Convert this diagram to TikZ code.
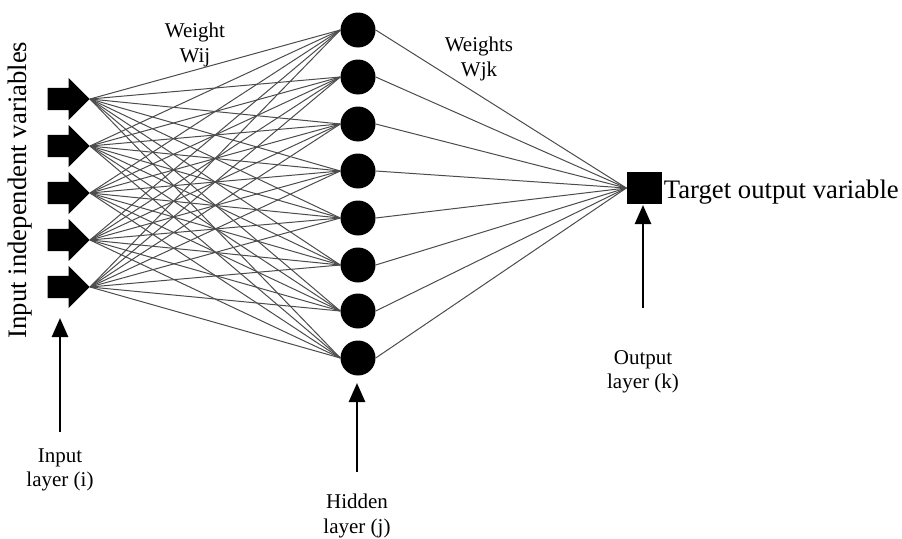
\documentclass[tikz,border=0pt]{standalone}
\usepackage{fontspec}
\setmainfont{Liberation Serif}
\usetikzlibrary{shapes.arrows, arrows.meta, positioning}
\tikzstyle{inarrow} = [single arrow, fill=black, inner sep=11pt, minimum height=42pt, single arrow head extend=10pt, single arrow head indent=0pt]
\tikzstyle{neuron} = [circle, fill=black, minimum size=35pt, inner sep=0pt]
\tikzstyle{outnode} = [rectangle, fill=black, minimum width=35pt, minimum height=32pt, inner sep=0pt]
\tikzstyle{weight} = [draw=black!70, line width=1pt]
\tikzstyle{pointer} = [line width=2.6pt, -{Triangle[length=19pt,width=16pt]}]
\tikzstyle{small} = [align=center, inner sep=0pt, font=\fontsize{21}{24.5}\selectfont]
\tikzstyle{big} = [inner sep=2pt, font=\fontsize{26.7}{30}\selectfont]

\begin{document}
\begin{tikzpicture}[x=1pt, y=-1pt]
    \useasboundingbox (0,0) rectangle (902,538);

    % input layer (i)
    \foreach \i/\y in {1/99, 2/146, 3/193, 4/240, 5/287}
        \node (in\i) [inarrow, anchor=tip] at (90,\y) {};

    % hidden layer (j)
    \foreach \j/\y in {1/30, 2/77, 3/124, 4/171, 5/218, 6/265, 7/311, 8/358}
        \node (h\j) [neuron] at (358,\y) {};

    % output layer (k)
    \node (out) [outnode] at (644,188) {};
    \node (target) [big, anchor=west, yshift=-4pt] at (out.east) {Target output variable};

    % weights
    \foreach \i in {1,...,5}
        \foreach \j in {1,...,8}
            \draw [weight] (in\i.tip) -- (h\j.west);
    \foreach \j in {1,...,8}
        \draw [weight] (h\j.east) -- (out.west);

    % labels
    \node (varlabel) [big, rotate=90] at (20,190) {Input independent variables};
    \node (wij) [small] at (195,45) {Weight\\Wij};
    \node (wjk) [small] at (479,59) {Weights\\Wjk};
    \node (inlabel) [small] at (60,470) {Input\\layer (i)};
    \node (hidlabel) [small] at (357,516) {Hidden\\layer (j)};
    \node (outlabel) [small] at (643,372) {Output\\layer (k)};

    \coordinate (inbase) at (60,432);
    \coordinate (intip) at (60,318);
    \coordinate (hidbase) at (357,472);
    \coordinate (hidtip) at (357,383);
    \coordinate (outbase) at (643,308);
    \coordinate (outtip) at (643,205);

    \draw [pointer] (inbase) -- (intip);
    \draw [pointer] (hidbase) -- (hidtip);
    \draw [pointer] (outbase) -- (outtip);
\end{tikzpicture}
\end{document}
